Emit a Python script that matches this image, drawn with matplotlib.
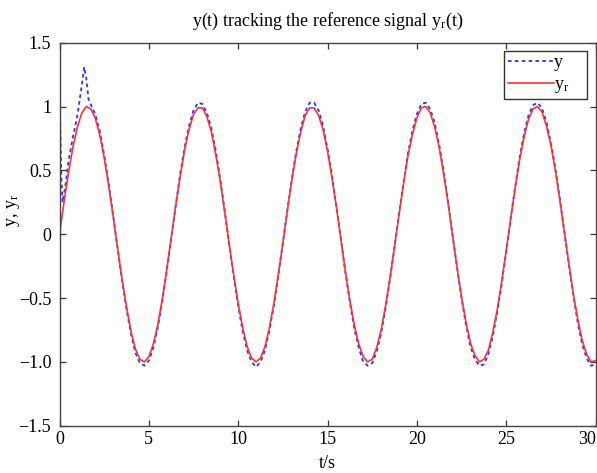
import matplotlib
matplotlib.use('Agg')
import matplotlib.pyplot as plt

plt.rcParams['font.family'] = ['Liberation Serif', 'DejaVu Serif']
plt.rcParams['mathtext.fontset'] = 'custom'
plt.rcParams['mathtext.rm'] = 'Liberation Serif'
plt.rcParams['mathtext.it'] = 'Liberation Serif:italic'

# reference signal y_r, sampled every 0.25 s
t_ref = [i * 0.25 for i in range(121)]
y_ref = [0.00, 0.25, 0.48, 0.68, 0.84, 0.95, 1.00, 0.98, 0.91, 0.78,
         0.60, 0.38, 0.14, -0.11, -0.35, -0.57, -0.76, -0.90, -0.98, -1.00,
         -0.96, -0.86, -0.71, -0.51, -0.28, -0.03, 0.22, 0.45, 0.66, 0.82,
         0.94, 0.99, 0.99, 0.92, 0.80, 0.62, 0.41, 0.17, -0.08, -0.32,
         -0.54, -0.73, -0.88, -0.97, -1.00, -0.97, -0.88, -0.73, -0.54, -0.31,
         -0.07, 0.18, 0.42, 0.63, 0.80, 0.93, 0.99, 0.99, 0.93, 0.82,
         0.65, 0.44, 0.21, -0.04, -0.29, -0.52, -0.71, -0.86, -0.96, -1.00,
         -0.98, -0.89, -0.75, -0.56, -0.34, -0.10, 0.15, 0.39, 0.61, 0.78,
         0.91, 0.99, 1.00, 0.95, 0.84, 0.68, 0.47, 0.24, -0.01, -0.26,
         -0.49, -0.69, -0.85, -0.95, -1.00, -0.98, -0.91, -0.77, -0.59, -0.37,
         -0.13, 0.12, 0.36, 0.58, 0.76, 0.90, 0.98, 1.00, 0.96, 0.85,
         0.70, 0.50, 0.27, 0.02, -0.22, -0.46, -0.66, -0.83, -0.94, -1.00,
         -0.99]

# system output y: start transient, then the 0.25 s grid from t = 2
t_out = [0, 0.02, 0.1, 0.17, 0.35, 0.5, 0.75, 1.0, 1.2, 1.38, 1.5, 1.62, 1.8] \
    + [2.0 + i * 0.25 for i in range(113)]
y_out = [0.0, 1.0, 0.45, 0.25, 0.40, 0.57, 0.76, 0.93, 1.12, 1.31, 1.22, 1.06, 1.0,
         0.94, 0.81, 0.62, 0.40, 0.15, -0.11, -0.36, -0.59, -0.78, -0.93,
         -1.01, -1.03, -0.99, -0.89, -0.73, -0.53, -0.29, -0.03, 0.22, 0.47,
         0.68, 0.85, 0.97, 1.03, 1.02, 0.95, 0.83, 0.65, 0.43, 0.18,
         -0.08, -0.33, -0.56, -0.76, -0.91, -1.00, -1.04, -1.00, -0.91, -0.75,
         -0.56, -0.32, -0.07, 0.19, 0.43, 0.65, 0.83, 0.96, 1.03, 1.03,
         0.97, 0.85, 0.67, 0.46, 0.21, -0.04, -0.30, -0.53, -0.74, -0.89,
         -1.00, -1.03, -1.01, -0.92, -0.78, -0.58, -0.35, -0.10, 0.16, 0.40,
         0.63, 0.81, 0.94, 1.02, 1.03, 0.98, 0.87, 0.70, 0.49, 0.25,
         -0.01, -0.26, -0.50, -0.71, -0.88, -0.98, -1.03, -1.02, -0.94, -0.80,
         -0.61, -0.39, -0.14, 0.12, 0.37, 0.60, 0.79, 0.93, 1.01, 1.03,
         0.99, 0.88, 0.72, 0.52, 0.28, 0.03, -0.23, -0.47, -0.69, -0.86,
         -0.97, -1.03, -1.02]

x_ticks = [0, 5, 10, 15, 20, 25, 30]
y_ticks = [1.5, 1, 0.5, 0, -0.5, -1.0, -1.5]
y_tick_labels = ['1.5', '1', '0.5', '0', '\u22120.5', '\u22121.0', '\u22121.5']

fig = plt.figure(figsize=(5.97, 4.73), dpi=100)
ax = fig.add_axes([0.0997, 0.100, 0.8978, 0.8097])

ax.plot(t_out, y_out, color='#3030ff', linestyle=(0, (2.0, 1.8)), linewidth=1.3, label='y    ')
ax.plot(t_ref, y_ref, color='#ff3333', linestyle='-', linewidth=1.2, label=r'y$_\mathrm{r}$    ')

ax.set_xlim(0, 30)
ax.set_ylim(-1.5, 1.5)
ax.set_xticks(x_ticks)
ax.set_xticklabels([str(v) for v in x_ticks])
ax.set_yticks(y_ticks)
ax.set_yticklabels(y_tick_labels)
ax.tick_params(direction='in', length=4, width=0.9, top=True, right=True,
               labelsize=13, colors='#333333', labelcolor='black')
ax.tick_params(axis='y', pad=6)
ax.tick_params(axis='x', pad=4)
# last label sits at the figure edge, keep it inside
ax.get_xticklabels()[-1].set_horizontalalignment('right')
for s in ax.spines.values():
    s.set_color('#444444')
    s.set_linewidth(1.0)

ax.set_title(r'y(t) tracking the reference signal y$_\mathrm{r}$(t)', fontsize=13, pad=12)
ax.set_xlabel('t/s', fontsize=13, labelpad=5)
ax.set_ylabel(r'y, y$_\mathrm{r}$', fontsize=13)
ax.yaxis.set_label_coords(-0.07, 0.563)

leg = ax.legend(loc='upper right', fontsize=13, handlelength=2.6, handletextpad=0.0,
                borderpad=0.2, labelspacing=0.25, borderaxespad=0.45, fancybox=False,
                framealpha=1)
leg.get_frame().set_edgecolor('#333333')
leg.get_frame().set_linewidth(1.0)

fig.savefig('out.png', dpi=100)
